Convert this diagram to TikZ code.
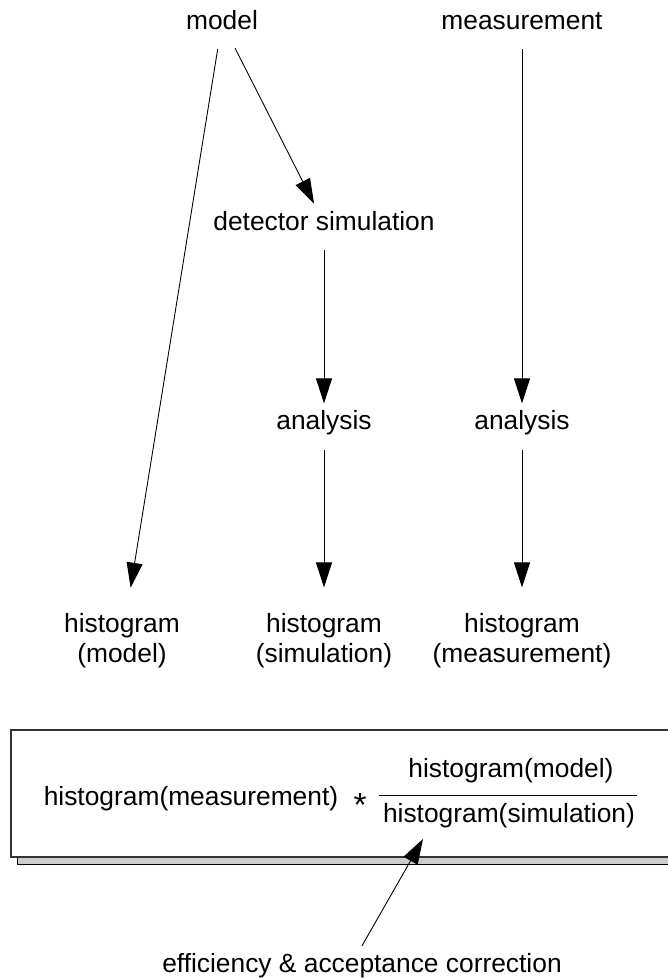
\documentclass[tikz,border=0pt]{standalone}
\usepackage{fontspec}
\setmainfont{Liberation Sans}
\usetikzlibrary{arrows.meta,calc}
\tikzset{
  lbl/.style={inner sep=0.12cm, text height=0.4cm, text depth=0.13cm},
  lbltwo/.style={align=center, inner sep=0.12cm},
  arr/.style={-{Triangle[length=0.5cm,width=0.32cm]}, line width=0.5pt, shorten <=0.14cm},
  arrh/.style={arr, shorten >=0.4cm},
}
\begin{document}
\begin{tikzpicture}[x=0.02cm, y=-0.02cm, font=\fontsize{15}{17}\selectfont]
\useasboundingbox (0,0) rectangle (667,978);
% result box with shadow
\draw[fill=gray!40, line width=0.5pt] (17,857) rectangle (690,864);
\draw[fill=white, draw=black!80, line width=0.6pt] (11,730) rectangle (684,857);
% top row
\node[lbl] (model) at (222,22.4) {model};
\node[lbl] (meas) at (522,22.4) {measurement};
\node[lbl] (detsim) at (324,223.4) {detector simulation};
\node[lbl] (anasim) at (324,423) {analysis};
\node[lbl] (anameas) at (522,423) {analysis};
% histograms
\node[lbltwo] (histmodel) at (122,641) {histogram\\(model)};
\node[lbltwo] (histsim) at (324,641) {histogram\\(simulation)};
\node[lbltwo] (histmeas) at (522,641) {histogram\\(measurement)};
% formula
\node[lbl] (fmeas) at (191,798.4) {histogram(measurement)};
\node[inner sep=0pt, anchor=base, font=\fontsize{19}{19}\selectfont] (fstar) at (360,816) {*};
\node[lbl] (fnum) at (511,770.4) {histogram(model)};
\node[lbl] (fden) at (509,815.4) {histogram(simulation)};
\draw[line width=0.5pt] ($(fden.north west)+(2,0)$) -- ($(fden.north east)+(-4,0)$);
\node[lbl] (eff) at (362,965.4) {efficiency \& acceptance correction};
% arrows
\draw[arr] (model) -- (detsim);
\draw[arrh] (model) -- (histmodel);
\draw[arr] (meas) -- (anameas);
\draw[arr] (detsim) -- (anasim);
\draw[arrh] (anasim) -- (histsim);
\draw[arrh] (anameas) -- (histmeas);
\draw[arr, shorten <=0pt] (eff.north) -- ($(fden.south)+(-86,4)$);
\end{tikzpicture}
\end{document}
